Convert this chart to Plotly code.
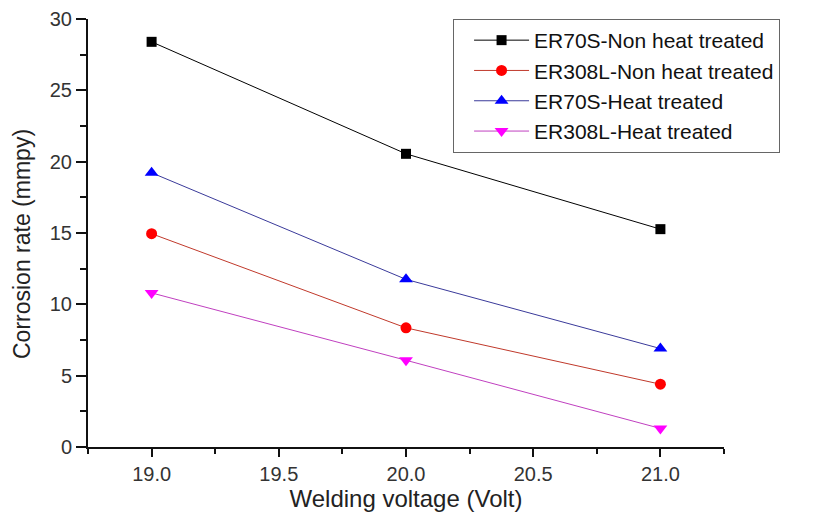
import plotly.graph_objects as go

voltage = [19.0, 20.0, 21.0]
er70s_non = [28.4, 20.55, 15.27]
er308l_non = [14.95, 8.35, 4.4]
er70s_heat = [19.22, 11.75, 6.9]
er308l_heat = [10.8, 6.08, 1.3]

series = [
    ("ER70S-Non heat treated", er70s_non, "#000000", "#000000", "square", 10),
    ("ER308L-Non heat treated", er308l_non, "#ff0000", "#c0392b", "circle", 11),
    ("ER70S-Heat treated", er70s_heat, "#0000ff", "#3a3a9a", "triangle-up", 12),
    ("ER308L-Heat treated", er308l_heat, "#ff00ff", "#c040c0", "triangle-down", 12),
]

fig = go.Figure()
for name, vals, mcol, lcol, sym, sz in series:
    fig.add_trace(go.Scatter(
        x=voltage, y=vals, name=name, mode="lines+markers",
        line=dict(color=lcol, width=1),
        marker=dict(symbol=sym, size=sz, color=mcol, line=dict(width=0)),
    ))

font_family = "Arial, Liberation Sans, sans-serif"
fig.update_layout(
    width=821, height=517,
    margin=dict(l=80, r=105, t=11, b=78, autoexpand=False),
    paper_bgcolor="white", plot_bgcolor="white",
    font=dict(family=font_family, color="#222222"),
    showlegend=True,
    legend=dict(
        x=0.574, y=1.0, xanchor="left", yanchor="top",
        bordercolor="#666666", borderwidth=1, bgcolor="white",
        font=dict(size=21, color="#111111", family=font_family),
        tracegroupgap=0, itemwidth=55, indentation=15,
    ),
    xaxis=dict(
        range=[18.75, 21.25], tickmode="array", automargin=False,
        tickvals=[19.0, 19.5, 20.0, 20.5, 21.0],
        ticktext=["19.0", "19.5", "20.0", "20.5", "21.0"],
        ticks="outside", ticklen=8, tickwidth=2, tickcolor="#111",
        minor=dict(tickvals=[18.75, 19.25, 19.75, 20.25, 20.75, 21.25], ticks="outside", ticklen=5, tickwidth=2, tickcolor="#111"),
        showline=True, linecolor="#111", linewidth=2,
        showgrid=False, zeroline=False,
        tickfont=dict(size=20, color="#333333"),
        title=dict(text="Welding voltage (Volt)", font=dict(size=24, color="#222222"), standoff=6),
    ),
    yaxis=dict(
        range=[0, 30], tickmode="array", automargin=False,
        tickvals=[0, 5, 10, 15, 20, 25, 30],
        ticks="outside", ticklen=10, tickwidth=2, tickcolor="#111",
        minor=dict(tickvals=[2.5, 7.5, 12.5, 17.5, 22.5, 27.5], ticks="outside", ticklen=6, tickwidth=2, tickcolor="#111"),
        showline=True, linecolor="#111", linewidth=2,
        showgrid=False, zeroline=False,
        tickfont=dict(size=20, color="#333333"),
    ),
    annotations=[dict(
        text="Corrosion rate (mmpy)", textangle=-90,
        xref="paper", yref="paper", x=0, y=0.5,
        xanchor="center", yanchor="middle", xshift=-66, yshift=-11, showarrow=False,
        font=dict(size=23, color="#222222", family=font_family),
    )],
)

fig.write_html("out.html")
